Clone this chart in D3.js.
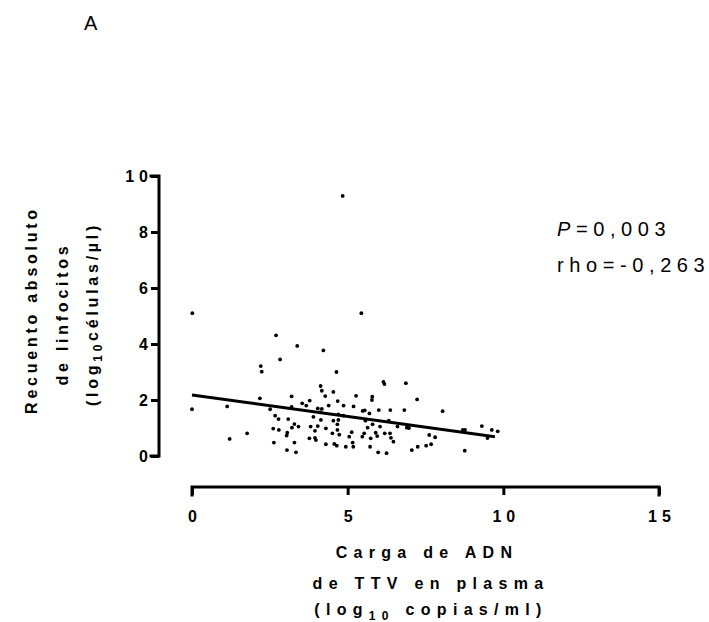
<!DOCTYPE html>
<html>
<head>
<meta charset="utf-8">
<script src="https://cdn.jsdelivr.net/npm/d3@7"></script>
<style>
  body { margin: 0; background: #fff; }
  svg { display: block; font-family: "Liberation Sans", Arial, sans-serif; }
</style>
</head>
<body>
<svg id="chart" width="709" height="622"></svg>
<script>
// ---- data ----
const ttvLoad = [
  0.01, 2.70, 3.38, 2.83, 2.21, 2.24, 2.18, 3.20, 0.00, 1.13, 2.51, 3.20, 2.67, 2.78, 3.09, 3.29, 3.42, 3.21, 2.61, 2.79,
  3.06, 3.04, 1.77, 1.21, 2.63, 3.29, 3.05, 3.34,
  4.84, 5.44, 4.22, 4.64, 6.15, 6.18, 6.87, 4.13, 4.17, 4.54, 4.28, 5.27, 5.79, 5.78, 3.78, 4.68, 3.54, 3.67, 4.39, 4.87,
  5.19, 4.04, 4.17, 4.11, 5.48, 5.55, 6.00, 6.37, 6.82, 5.70, 4.70, 4.86, 3.90, 4.54, 4.70, 4.14, 5.57, 6.32, 4.67, 5.80,
  3.81, 4.04, 5.64, 6.04, 6.60, 6.90, 4.30, 3.95, 4.67, 5.13, 4.51, 4.73, 5.53, 5.47, 5.90, 5.95, 6.36, 6.19, 5.05, 3.77,
  3.95, 3.98, 5.74, 6.39, 6.47, 4.30, 4.57, 4.65, 4.94, 5.16, 5.18, 5.72, 5.98, 6.25,
  7.23, 8.05, 6.97, 7.62, 7.81, 7.06, 7.25, 7.52, 7.68, 8.70, 8.77, 8.76, 9.31, 9.49, 9.63, 9.82
];
const lymphCount = [
  5.10, 4.31, 3.93, 3.45, 3.21, 3.01, 2.06, 2.13, 1.67, 1.77, 1.67, 1.75, 1.44, 1.32, 1.32, 1.14, 1.05, 1.01, 0.98, 0.93,
  0.83, 0.73, 0.81, 0.61, 0.48, 0.48, 0.21, 0.13,
  9.29, 5.10, 3.77, 3.00, 2.65, 2.57, 2.60, 2.50, 2.33, 2.29, 2.14, 2.15, 2.12, 2.00, 1.98, 1.96, 1.88, 1.80, 1.80, 1.80,
  1.77, 1.70, 1.68, 1.56, 1.61, 1.63, 1.64, 1.64, 1.64, 1.52, 1.49, 1.44, 1.40, 1.26, 1.29, 1.29, 1.26, 1.26, 1.13, 1.13,
  1.05, 1.07, 1.01, 1.05, 1.05, 1.01, 0.99, 0.90, 0.93, 0.85, 0.81, 0.76, 0.81, 0.69, 0.83, 0.71, 0.81, 0.81, 0.69, 0.63,
  0.65, 0.57, 0.63, 0.65, 0.51, 0.42, 0.43, 0.37, 0.33, 0.48, 0.33, 0.33, 0.13, 0.10,
  2.02, 1.60, 1.00, 0.75, 0.67, 0.21, 0.33, 0.37, 0.42, 0.93, 0.93, 0.19, 1.07, 0.64, 0.93, 0.88
];
const fitX = [0, 9.73];
const fitY = [2.18, 0.69];
const xTicks = [0, 5, 10, 15];
const yTicks = [0, 2, 4, 6, 8, 10];
const statLines = [["P", "=0,003"], ["", "rho=-0,263"]];

// ---- layout ----
const svg = d3.select("#chart");
const x = d3.scaleLinear().domain([0, 15]).range([192, 659]);
const y = d3.scaleLinear().domain([0, 10]).range([456, 176]);
const yAxisX = 159;
const xAxisY = 487;

// panel letter
svg.append("text").attr("x", 84).attr("y", 30)
  .style("font-size", "20px").text("A");

// x axis
const xAxis = svg.append("g").attr("transform", `translate(0,${xAxisY})`)
  .call(d3.axisBottom(x).tickValues(xTicks).tickSize(8).tickFormat(d3.format("d")));
xAxis.select(".domain").attr("stroke-width", 3).attr("d", `M${x(0)},8V0H${x(15)}V8`);
xAxis.selectAll(".tick line").attr("stroke-width", 3);
xAxis.selectAll(".tick text")
  .attr("y", 35).attr("dy", 0).attr("dx", 2.5)
  .style("font-size", "16px").style("font-weight", "bold").style("letter-spacing", "5px")
  .attr("fill", "#000");

// y axis
const yAxis = svg.append("g").attr("transform", `translate(${yAxisX},0)`)
  .call(d3.axisLeft(y).tickValues(yTicks).tickSize(8).tickFormat(d3.format("d")));
yAxis.select(".domain").attr("stroke-width", 3).attr("d", `M-8,${y(10)}H0V${y(0)}H-8`);
yAxis.selectAll(".tick line").attr("stroke-width", 3);
yAxis.selectAll(".tick text")
  .attr("x", -11).attr("dy", "0.36em").attr("dx", 5)
  .style("font-size", "16px").style("font-weight", "bold").style("letter-spacing", "5px")
  .attr("fill", "#000");
svg.selectAll(".domain").attr("stroke", "#000").attr("stroke-linecap", "square");
svg.selectAll(".tick line").attr("stroke", "#000");

// points
svg.append("g").selectAll("circle")
  .data(ttvLoad.map((v, i) => [v, lymphCount[i]]))
  .join("circle")
  .attr("cx", d => x(d[0])).attr("cy", d => y(d[1]))
  .attr("r", 1.9).attr("fill", "#000");

// regression line
svg.append("line")
  .attr("x1", x(fitX[0])).attr("y1", y(fitY[0]))
  .attr("x2", x(fitX[1])).attr("y2", y(fitY[1]))
  .attr("stroke", "#000").attr("stroke-width", 3);

// stats (last glyph without trailing letter-spacing)
const stat = svg.append("g").style("font-size", "20px").style("letter-spacing", "5.6px");
statLines.forEach((s, i) => {
  const t = stat.append("text").attr("x", 557).attr("y", 236 + i * 36);
  if (s[0]) t.append("tspan").style("font-style", "italic").text(s[0]);
  t.append("tspan").text(s[1].slice(0, -1));
  t.append("tspan").style("letter-spacing", "0px").text(s[1].slice(-1));
});

// x title
const xt = svg.append("g").style("font-size", "16px").style("font-weight", "bold")
  .style("letter-spacing", "6.3px").attr("text-anchor", "middle");
xt.append("text").attr("x", 427).attr("y", 558).text("Carga de ADN");
xt.append("text").attr("x", 431).attr("y", 589).text("de TTV en plasma");
const xt3 = xt.append("text").attr("x", 431).attr("y", 615);
xt3.append("tspan").text("(log");
xt3.append("tspan").attr("dy", 5).style("font-size", "12px").text("10");
xt3.append("tspan").attr("dy", -5).text(" copias/ml)");

// y title
const yt = svg.append("g").style("font-size", "16px").style("font-weight", "bold")
  .style("letter-spacing", "3.75px").attr("text-anchor", "middle");
const cy = 310;
yt.append("text").attr("transform", `translate(37,${cy}) rotate(-90)`).text("Recuento absoluto");
yt.append("text").attr("transform", `translate(68,${cy + 4}) rotate(-90)`).text("de linfocitos");
const yt3 = yt.append("text").attr("transform", `translate(98,${cy + 4}) rotate(-90)`);
yt3.append("tspan").text("(log");
yt3.append("tspan").attr("dy", 4).style("font-size", "12px").text("10");
yt3.append("tspan").attr("dy", -4).text("células/µl)");
</script>
</body>
</html>
